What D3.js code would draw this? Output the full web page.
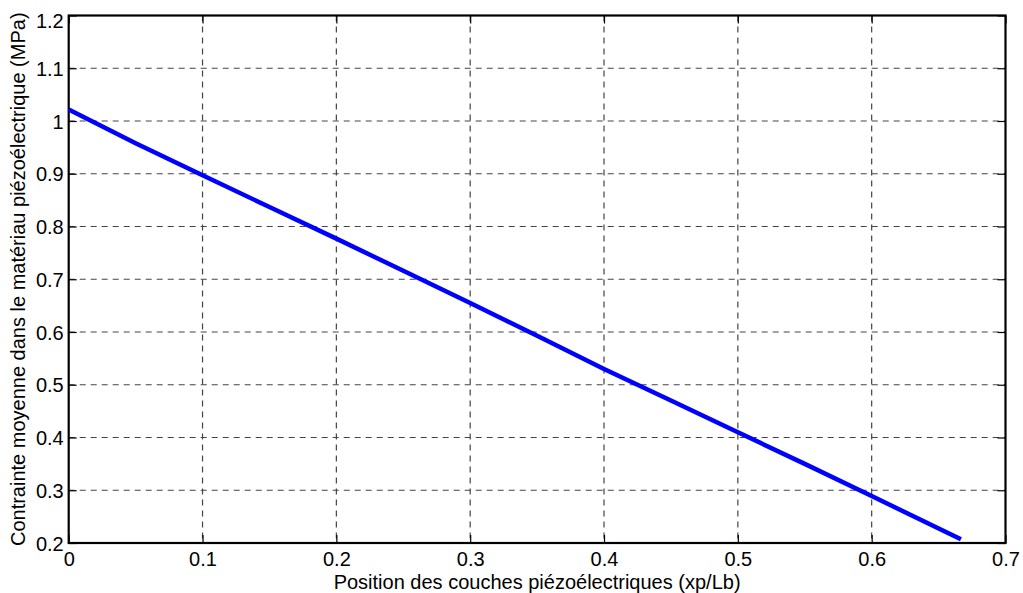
<!DOCTYPE html>
<html>
<head>
<meta charset="utf-8">
<script src="https://cdn.jsdelivr.net/npm/d3@7"></script>
<style>
  html, body { margin: 0; padding: 0; background: #fff; }
  svg { display: block; }
  text { font-family: "Liberation Sans", Arial, sans-serif; fill: #000; }
</style>
</head>
<body>
<svg id="chart" width="1023" height="593"></svg>
<script>
// Data
const xPositions = [0, 0.05, 0.1, 0.15, 0.2, 0.25, 0.3, 0.35, 0.4, 0.45, 0.5, 0.55, 0.6, 0.6667];
const stressValues = [1.022, 0.958, 0.897, 0.837, 0.777, 0.716, 0.655, 0.593, 0.530, 0.470, 0.410, 0.350, 0.289, 0.207];
const xTicks = [0, 0.1, 0.2, 0.3, 0.4, 0.5, 0.6, 0.7];
const yTicks = [0.2, 0.3, 0.4, 0.5, 0.6, 0.7, 0.8, 0.9, 1, 1.1, 1.2];
const xLabel = "Position des couches piézoélectriques (xp/Lb)";
const yLabel = "Contrainte moyenne dans le matériau piézoélectrique (MPa)";

const svg = d3.select("#chart");
const pL = 68.7, pR = 1005.5, pT = 15.5, pB = 543;
const fs = 20;

const x = d3.scaleLinear().domain([0, 0.7]).range([pL, pR]);
const y = d3.scaleLinear().domain([0.2, 1.2]).range([pB, pT]);

const fmt = d => String(+d.toFixed(2));

// Grid
const grid = svg.append("g").attr("stroke", "#444").attr("stroke-width", 1.2).attr("stroke-dasharray", "6,5");
grid.selectAll("line.gx").data(xTicks.slice(1, -1)).join("line")
  .attr("x1", d => x(d)).attr("x2", d => x(d)).attr("y1", pT).attr("y2", pB);
grid.selectAll("line.gy").data(yTicks.slice(1, -1)).join("line")
  .attr("x1", pL).attr("x2", pR).attr("y1", d => y(d)).attr("y2", d => y(d));

// Axes with inside ticks (bottom/left with labels, top/right without)
const axB = svg.append("g").attr("transform", `translate(0,${pB})`)
  .call(d3.axisBottom(x).tickValues(xTicks).tickFormat(fmt).tickSizeInner(-8).tickSizeOuter(0).tickPadding(8.5));
const axT = svg.append("g").attr("transform", `translate(0,${pT})`)
  .call(d3.axisTop(x).tickValues(xTicks).tickFormat("").tickSizeInner(-8).tickSizeOuter(0));
const axL = svg.append("g").attr("transform", `translate(${pL},0)`)
  .call(d3.axisLeft(y).tickValues(yTicks).tickFormat(fmt).tickSizeInner(-8).tickSizeOuter(0).tickPadding(5));
const axR = svg.append("g").attr("transform", `translate(${pR},0)`)
  .call(d3.axisRight(y).tickValues(yTicks).tickFormat("").tickSizeInner(-8).tickSizeOuter(0));

[axB, axT, axL, axR].forEach(g => {
  g.select(".domain").remove();
  g.selectAll("line").attr("stroke", "#000").attr("stroke-width", 1.2);
  g.selectAll("text").style("font-family", "Liberation Sans, Arial, sans-serif").style("font-size", fs + "px").attr("fill", "#000");
});
axB.selectAll("text").attr("dy", "0.71em");
axL.selectAll("text").attr("dy", d => d === 1.2 ? "0.6em" : "0.35em");

// Frame
svg.append("rect").attr("x", pL).attr("y", pT).attr("width", pR - pL).attr("height", pB - pT)
  .attr("fill", "none").attr("stroke", "#000").attr("stroke-width", 2.2);

// Curve
const line = d3.line().x((d, i) => x(xPositions[i])).y(d => y(d));
svg.append("path").datum(stressValues).attr("d", line)
  .attr("fill", "none").attr("stroke", "#0000ff").attr("stroke-width", 4.5).attr("stroke-linejoin", "round");

// Axis titles
svg.append("text").attr("x", (pL + pR) / 2).attr("y", 588.5).attr("text-anchor", "middle")
  .style("font-size", fs + "px").text(xLabel);
svg.append("text").attr("transform", `translate(25,${(pT + pB) / 2}) rotate(-90)`).attr("text-anchor", "middle")
  .style("font-size", fs + "px").text(yLabel);
</script>
</body>
</html>
